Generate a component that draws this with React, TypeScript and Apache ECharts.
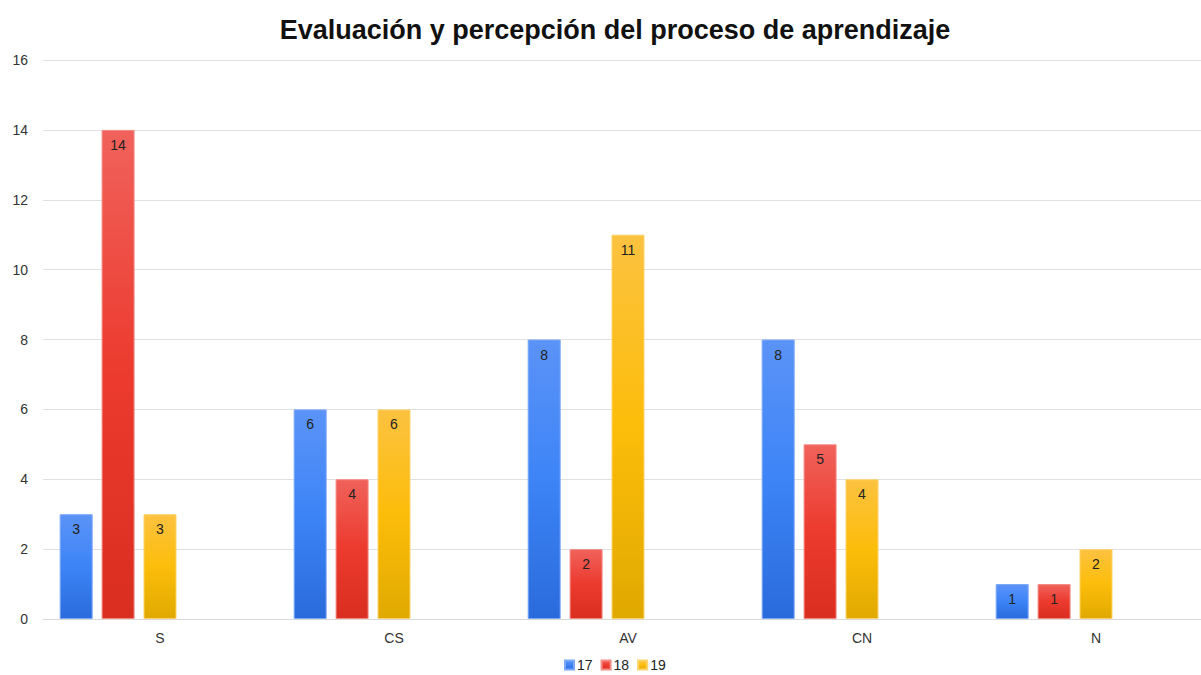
import React, { useEffect, useRef } from "react";
import * as echarts from "echarts";

const categories = ["S", "CS", "AV", "CN", "N"];
const seriesNames = ["17", "18", "19"];
const values17 = [3, 6, 8, 8, 1];
const values18 = [14, 4, 2, 5, 1];
const values19 = [3, 6, 11, 4, 2];
const yTicks = [0, 2, 4, 6, 8, 10, 12, 14, 16];

const grad = (top: string, mid: string, bottom: string) =>
  new echarts.graphic.LinearGradient(0, 0, 0, 1, [
    { offset: 0, color: top },
    { offset: 0.5, color: mid },
    { offset: 1, color: bottom },
  ]);

export default function App() {
  const ref = useRef<HTMLDivElement>(null);
  useEffect(() => {
    if (!ref.current) return;
    const chart = echarts.init(ref.current, null, { renderer: "svg" });
    const font = "Liberation Sans, Arial, sans-serif";
    const colors = [
      { c: "#3b82f6", g: grad("#5b93f7", "#3d84f7", "#2a6bdc"), b: "#7aa8f8" },
      { c: "#ea3a2f", g: grad("#f0625b", "#ec3a2e", "#d92e20"), b: "#f38a84" },
      { c: "#fbbc05", g: grad("#fcc240", "#fcbd0a", "#e0a900"), b: "#fcd36a" },
    ];
    const datas = [values17, values18, values19];
    const series: any[] = datas.map((d, i) => ({
      name: seriesNames[i],
      type: "bar",
      data: d,
      barWidth: 33,
      barGap: "27%",
      itemStyle: { color: colors[i].g, borderColor: colors[i].b, borderWidth: 1 },
      label: {
        show: true,
        position: "insideTop",
        distance: 8,
        color: "#222",
        fontSize: 14,
        fontFamily: font,
      },
    }));
    // two empty slots to reproduce the original grouping offset
    series.push({ name: "_a", type: "bar", data: [], barWidth: 33, barGap: "27%" });
    series.push({ name: "_b", type: "bar", data: [], barWidth: 33, barGap: "27%" });
    chart.setOption({
      animation: false,
      color: colors.map((c) => c.c),
      title: {
        text: "Evaluación y percepción del proceso de aprendizaje",
        left: 610,
        top: 11,
        textAlign: "center",
        textStyle: { fontSize: 27, fontWeight: "bold", color: "#111", fontFamily: font },
      },
      legend: {
        data: seriesNames,
        left: 564,
        top: 658,
        padding: 0,
        itemWidth: 9,
        itemHeight: 9,
        itemGap: 8,
        icon: "rect",
        textStyle: { fontSize: 14, color: "#222", fontFamily: font, padding: [0, 0, 0, -2] },
      },
      grid: { left: 43, right: 7, top: 60, bottom: 56 },
      xAxis: {
        type: "category",
        data: categories,
        axisLine: { lineStyle: { color: "#d9d9d9" } },
        axisTick: { show: false },
        axisLabel: { color: "#333", fontSize: 14, fontFamily: font, margin: 12 },
      },
      yAxis: {
        type: "value",
        min: yTicks[0],
        max: yTicks[yTicks.length - 1],
        interval: 2,
        axisLine: { show: false },
        axisTick: { show: false },
        splitLine: { lineStyle: { color: "#e0e0e0" } },
        axisLabel: { color: "#333", fontSize: 14, fontFamily: font, margin: 15 },
      },
      series,
    });
    return () => chart.dispose();
  }, []);
  return (
    <div
      style={{
        position: "fixed",
        left: 0,
        top: 0,
        width: 1201,
        height: 675,
        overflow: "hidden",
        background: "#fff",
      }}
    >
      <div ref={ref} style={{ width: 1220, height: 675 }} />
    </div>
  );
}
